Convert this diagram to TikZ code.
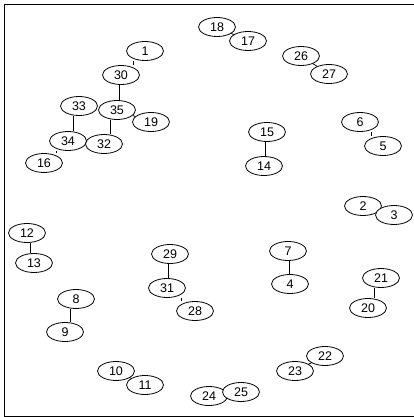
\documentclass[tikz,border=0pt]{standalone}
\usepackage{fontspec}
\setmainfont{Liberation Sans}
\usetikzlibrary{shapes.geometric,calc}
\pgfdeclarelayer{bg}
\pgfsetlayers{bg,main}
\tikzset{
  vx/.style={ellipse, draw, line width=0.8pt, fill=white, minimum width=37pt, minimum height=19pt, inner sep=0pt, font=\fontsize{12.5}{13}\selectfont},
  ed/.style={line width=0.8pt},
}
\newcommand{\vedge}[3]{% upper, lower, midname
  \coordinate (#3) at ($(#1)!0.5!(#2)$);
  \draw[ed] (#1.south -| #3) -- (#2.north -| #3);}
\begin{document}
\begin{tikzpicture}[x=1pt,y=-1pt]
\useasboundingbox (0,0) rectangle (414,417);
\draw[line width=1pt] (414,5) -- (4.5,5) -- (4.5,416) -- (414,416);
\node[vx] (n1) at (145,51) {1};
\node[vx] (n30) at (121,75) {30};
\node[vx] (n33) at (79,106) {33};
\node[vx] (n35) at (117,110) {35};
\node[vx] (n19) at (151,122) {19};
\node[vx] (n34) at (68,141) {34};
\node[vx] (n32) at (104,144) {32};
\node[vx] (n16) at (44,163) {16};
\node[vx] (n18) at (217,27) {18};
\node[vx] (n17) at (248,41) {17};
\node[vx] (n26) at (301,56) {26};
\node[vx] (n27) at (329,74) {27};
\node[vx] (n15) at (267,132) {15};
\node[vx] (n14) at (264,166) {14};
\node[vx] (n6) at (360,122) {6};
\node[vx] (n5) at (383,146) {5};
\node[vx] (n2) at (363,206) {2};
\node[vx] (n3) at (394,215) {3};
\node[vx] (n12) at (27,233) {12};
\node[vx] (n13) at (34,263) {13};
\node[vx] (n29) at (170,254) {29};
\node[vx] (n31) at (167,288) {31};
\node[vx] (n28) at (195,311) {28};
\node[vx] (n8) at (76,299) {8};
\node[vx] (n9) at (65,332) {9};
\node[vx] (n10) at (116,371) {10};
\node[vx] (n11) at (145,385) {11};
\node[vx] (n7) at (288,251) {7};
\node[vx] (n4) at (290,284) {4};
\node[vx] (n21) at (381,278) {21};
\node[vx] (n20) at (368,308) {20};
\node[vx] (n22) at (325,356) {22};
\node[vx] (n23) at (295,371) {23};
\node[vx] (n24) at (209,396) {24};
\node[vx] (n25) at (241,392) {25};
\begin{pgfonlayer}{bg}
\vedge{n1}{n30}{m1}
\vedge{n30}{n35}{m2}
\vedge{n33}{n34}{m3}
\vedge{n35}{n32}{m4}
\vedge{n34}{n16}{m5}
\vedge{n15}{n14}{m6}
\vedge{n6}{n5}{m7}
\vedge{n12}{n13}{m8}
\vedge{n29}{n31}{m9}
\vedge{n31}{n28}{m10}
\vedge{n8}{n9}{m11}
\vedge{n7}{n4}{m12}
\vedge{n21}{n20}{m13}
\draw[ed] (n35) -- (n19);
\draw[ed] (n18) -- (n17);
\draw[ed] (n26) -- (n27);
\draw[ed] (n2) -- (n3);
\draw[ed] (n10) -- (n11);
\draw[ed] (n22) -- (n23);
\draw[ed] (n24) -- (n25);
\end{pgfonlayer}
\end{tikzpicture}
\end{document}
